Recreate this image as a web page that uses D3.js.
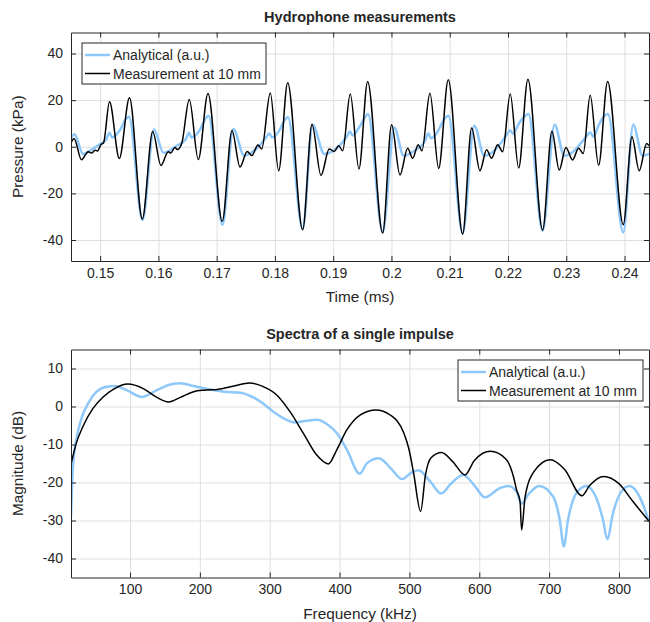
<!DOCTYPE html>
<html>
<head>
<meta charset="utf-8">
<script src="https://cdn.jsdelivr.net/npm/d3@7/dist/d3.min.js"></script>
<style>
body { margin: 0; background: #fff; }
svg text { font-family: "Liberation Sans", Arial, Helvetica, sans-serif; fill: #262626; }
</style>
</head>
<body>
<div id="chart"></div>
<script>
// ---- top panel: hydrophone trace ----
var timeTicks = [0.15, 0.16, 0.17, 0.18, 0.19, 0.2, 0.21, 0.22, 0.23, 0.24];
var pressureTicks = [-40, -20, 0, 20, 40];

var measuredTime = [
    0.14500, 0.14552, 0.14680, 0.14797, 0.14852, 0.14912, 0.14955, 0.15015, 0.15058,
    0.15161, 0.15329, 0.15504, 0.15724, 0.15902, 0.16044, 0.16170, 0.16211, 0.16285, 0.16324, 0.16400,
    0.16530, 0.16685, 0.16851, 0.17096, 0.17263, 0.17400, 0.17524, 0.17603, 0.17709, 0.17772,
    0.17920, 0.18064, 0.18219, 0.18476, 0.18636, 0.18790, 0.18932, 0.19018, 0.19094, 0.19162,
    0.19293, 0.19442, 0.19591, 0.19849, 0.20003, 0.20146, 0.20278, 0.20364, 0.20460, 0.20523,
    0.20660, 0.20810, 0.20975, 0.21222, 0.21376, 0.21518, 0.21633, 0.21719, 0.21822, 0.21908,
    0.22038, 0.22183, 0.22342, 0.22594, 0.22754, 0.22879, 0.22994, 0.23109, 0.23212, 0.23291,
    0.23411, 0.23555, 0.23710, 0.23978, 0.24127, 0.24252, 0.24379, 0.24420
];
var measuredPressure = [
    1.5, 3.5, -5.6, -2.1, -2.7, -1.5, -1.8, 1.0, 1.6,
    19.3, -5.0, 21.0, -31.0, 6.5, -8.0, -2.1, -2.7, -0.3, -1.2, 1.4,
    20.3, -5.5, 22.8, -32.0, 7.0, -8.7, -2.0, -3.8, 0.8, -1.0,
    23.0, -10.3, 27.5, -35.6, 9.7, -12.3, -1.0, -2.0, 0.4, -1.7,
    22.6, -9.5, 28.0, -37.0, 9.4, -12.1, -0.6, -4.9, 0.9, -1.7,
    22.9, -9.3, 28.7, -37.4, 8.0, -10.3, -1.3, -4.9, 0.9, -2.1,
    22.6, -9.1, 29.0, -35.7, 6.6, -10.0, -0.3, -5.7, -0.6, -2.9,
    22.1, -7.9, 28.0, -33.4, 4.3, -10.3, 1.4, 0.5
];

var analyticalTime = [
    0.14500, 0.14560, 0.14706, 0.14843, 0.14998, 0.15109, 0.15161, 0.15204, 0.15341, 0.15444, 0.15495,
    0.15727, 0.15924, 0.16087, 0.16314, 0.16473, 0.16525, 0.16568, 0.16705, 0.16817, 0.16860,
    0.17100, 0.17285, 0.17474, 0.17560, 0.17731, 0.17846, 0.17906, 0.17949, 0.18074, 0.18160, 0.18224,
    0.18476, 0.18648, 0.18847, 0.19104, 0.19236, 0.19288, 0.19331, 0.19451, 0.19545, 0.19597,
    0.19849, 0.20048, 0.20209, 0.20391, 0.20563, 0.20635, 0.20678, 0.20793, 0.20906, 0.20978,
    0.21222, 0.21421, 0.21592, 0.21764, 0.21935, 0.22042, 0.22085, 0.22188, 0.22282, 0.22351,
    0.22594, 0.22800, 0.22965, 0.23137, 0.23308, 0.23415, 0.23463, 0.23561, 0.23646, 0.23715,
    0.23978, 0.24149, 0.24310, 0.24420
];
var analyticalPressure = [
    3.8, 5.4, -3.1, -1.4, 1.2, 3.3, 6.0, 4.0, 7.2, 12.0, 12.9,
    -31.4, 7.5, -2.6, 0.4, 3.3, 6.0, 4.0, 7.0, 12.3, 13.3,
    -33.5, 7.6, -3.9, -3.1, 0.4, 4.0, 5.7, 4.0, 6.9, 11.1, 12.6,
    -35.2, 9.4, -3.1, 0.4, 4.5, 6.5, 4.8, 8.5, 12.5, 14.0,
    -36.5, 8.3, -3.9, -1.7, 1.9, 5.7, 3.6, 6.5, 11.9, 13.3,
    -37.0, 9.0, -3.9, -1.7, 3.5, 7.0, 5.5, 10.0, 13.0, 14.0,
    -36.0, 9.4, -3.9, -1.7, 3.3, 6.1, 4.3, 9.5, 13.0, 14.0,
    -36.8, 9.4, -3.9, -3.1
];

// ---- bottom panel: spectra ----
var freqTicks = [100, 200, 300, 400, 500, 600, 700, 800];
var magTicks = [-40, -30, -20, -10, 0, 10];

var measuredFreq = [
    15.5, 23, 32.7, 47, 61.5, 76, 97, 119, 138.5, 155, 172, 191, 206, 225, 249, 271, 290,
    309.6, 328.8, 348, 367, 384, 396, 410.6, 429.8, 452, 473, 492, 499, 506, 516, 523, 531,
    546, 562, 579.5, 593, 616, 638, 649, 653.3, 658.4, 660.6, 665.6, 678, 701.5, 722, 747,
    758, 778, 800, 820, 843
];
var measuredMag = [
    -15.2, -9.7, -5.2, -0.5, 2.5, 4.5, 5.9, 4.7, 2.4, 1.2, 2.4, 3.9, 4.3, 4.5, 5.4, 6.2, 5.3,
    3.1, -1.3, -7, -12.7, -15.1, -11.4, -6.1, -2.2, -0.9, -2.3, -7, -11, -17.5, -27.6, -18, -13.5,
    -12.1, -14.5, -18, -14.2, -11.8, -13.8, -18.5, -21.9, -25, -32.5, -23.8, -17.2, -14, -16.5, -23.5,
    -20.8, -18.4, -20.3, -25, -30.2
];

var analyticalFreq = [
    15.5, 18.3, 23, 30.3, 40, 52, 66.3, 78.4, 95.2, 116.8, 138.5, 157.7, 172, 191, 210.6, 234.6,
    258.7, 273, 287.5, 304.8, 324, 336, 348, 367.3, 381.7, 396, 410.6, 428.8, 439.4, 456.3, 473,
    489.5, 502, 513, 530, 545.5, 560, 577, 594, 608, 629.5, 641.4, 653.3, 660.5, 670, 685.7,
    705.7, 715.2, 721, 727.1, 739, 753.3, 767.6, 777.1, 783.3, 791.4, 803.3, 815.2, 829.5, 843
];
var analyticalMag = [
    -29, -15.9, -8.9, -3.2, 0.8, 3.9, 5.2, 5.4, 4.3, 2.5, 4.3, 5.8, 6.1, 5.4, 4.6, 3.9,
    3.6, 2.7, 1.2, -1.3, -3.5, -4.2, -3.9, -3.5, -4.6, -7, -11.4, -17.7, -14.9, -13.6, -16.2,
    -19.1, -17.5, -16.8, -19.8, -22.9, -20.2, -18, -21, -23.9, -21.5, -20.9, -22.4, -25.6, -23.2, -20.9,
    -23.7, -29.8, -36.8, -29.8, -22.8, -20.9, -24.1, -29.8, -34.9, -28.1, -22.4, -20.9, -23.7, -30.3
];

var seriesNames = ["Analytical (a.u.)", "Measurement at 10 mm"];
var seriesColors = ["#8ec8fa", "#000000"];
var seriesWidths = [2.5, 1.5];

var width = 650, height = 622;
var svg = d3.select("#chart").append("svg")
    .attr("width", width)
    .attr("height", height);

function zip(xs, ys){
    return xs.map(function(x, i){ return [x, ys[i]]; });
}

function drawPanel(p){
    var g = svg.append("g");
    var x = d3.scaleLinear().domain(p.xDomain).range([p.left, p.right]);
    var y = d3.scaleLinear().domain(p.yDomain).range([p.bottom, p.top]);
    var w = p.right - p.left;
    var h = p.bottom - p.top;

    //grid
    g.append("g")
        .attr("transform", "translate(0," + p.bottom + ")")
        .call(d3.axisBottom(x).tickValues(p.xTicks).tickSize(-h).tickFormat(""))
        .call(function(a){ a.select(".domain").remove(); a.selectAll("line").attr("stroke", "#dfdfdf"); });
    g.append("g")
        .attr("transform", "translate(" + p.left + ",0)")
        .call(d3.axisLeft(y).tickValues(p.yTicks).tickSize(-w).tickFormat(""))
        .call(function(a){ a.select(".domain").remove(); a.selectAll("line").attr("stroke", "#dfdfdf"); });

    //lines, clipped to axes
    g.append("clipPath").attr("id", p.id + "clip")
        .append("rect").attr("x", p.left).attr("y", p.top).attr("width", w).attr("height", h);
    var line = d3.line()
        .x(function(d){ return x(d[0]); })
        .y(function(d){ return y(d[1]); })
        .curve(d3.curveMonotoneX);
    p.series.forEach(function(s, i){
        g.append("path")
            .datum(s)
            .attr("clip-path", "url(#" + p.id + "clip)")
            .attr("fill", "none")
            .attr("stroke", seriesColors[i])
            .attr("stroke-width", seriesWidths[i])
            .attr("stroke-linejoin", "round")
            .attr("d", line);
    });

    //axes, ticks pointing inward on all four sides
    var styleAxis = function(a){
        a.select(".domain").attr("stroke", "#262626").attr("stroke-width", 1);
        a.selectAll(".tick line").attr("stroke", "#262626");
        a.selectAll("text").attr("font-size", 14).attr("fill", "#262626")
            .style("font-family", '"Liberation Sans", Arial, sans-serif');
    };
    g.append("g")
        .attr("transform", "translate(0," + p.bottom + ")")
        .call(d3.axisBottom(x).tickValues(p.xTicks).tickSizeInner(-5).tickSizeOuter(0).tickPadding(7)
            .tickFormat(function(d){ return String(d); }))
        .call(styleAxis);
    g.append("g")
        .attr("transform", "translate(0," + p.top + ")")
        .call(d3.axisTop(x).tickValues(p.xTicks).tickSizeInner(-5).tickSizeOuter(0).tickFormat(""))
        .call(styleAxis);
    g.append("g")
        .attr("transform", "translate(" + p.left + ",0)")
        .call(d3.axisLeft(y).tickValues(p.yTicks).tickSizeInner(-5).tickSizeOuter(0).tickPadding(8)
            .tickFormat(function(d){ return String(d); }))
        .call(styleAxis);
    g.append("g")
        .attr("transform", "translate(" + p.right + ",0)")
        .call(d3.axisRight(y).tickValues(p.yTicks).tickSizeInner(-5).tickSizeOuter(0).tickFormat(""))
        .call(styleAxis);

    //title and labels
    g.append("text")
        .attr("x", (p.left + p.right) / 2).attr("y", p.top - 11)
        .attr("text-anchor", "middle").attr("font-size", 14.5).attr("font-weight", "bold")
        .attr("fill", "#000")
        .text(p.title);
    g.append("text")
        .attr("x", (p.left + p.right) / 2).attr("y", p.bottom + 41)
        .attr("text-anchor", "middle").attr("font-size", 15.4)
        .text(p.xLabel);
    g.append("text")
        .attr("transform", "translate(23," + (p.top + p.bottom) / 2 + ") rotate(-90)")
        .attr("text-anchor", "middle").attr("font-size", 15.4)
        .text(p.yLabel);

    //legend
    var lg = g.append("g").attr("transform", "translate(" + p.legend[0] + "," + p.legend[1] + ")");
    lg.append("rect")
        .attr("width", p.legend[2]).attr("height", 41)
        .attr("fill", "#fff").attr("stroke", "#262626").attr("stroke-width", 1);
    seriesNames.forEach(function(name, i){
        var ly = 12 + i * 18.5;
        lg.append("line")
            .attr("x1", 3).attr("x2", 28).attr("y1", ly).attr("y2", ly)
            .attr("stroke", seriesColors[i]).attr("stroke-width", seriesWidths[i]);
        lg.append("text")
            .attr("x", 31).attr("y", ly + 5)
            .attr("font-size", 14).attr("fill", "#000")
            .text(name);
    });
}

drawPanel({
    id: "top",
    left: 71, right: 649, top: 32.5, bottom: 261,
    xDomain: [0.145, 0.2442], yDomain: [-49, 49],
    xTicks: timeTicks, yTicks: pressureTicks,
    series: [zip(analyticalTime, analyticalPressure), zip(measuredTime, measuredPressure)],
    title: "Hydrophone measurements", xLabel: "Time (ms)", yLabel: "Pressure (kPa)",
    legend: [82, 43, 184]
});

drawPanel({
    id: "bottom",
    left: 71, right: 649, top: 349.5, bottom: 577.5,
    xDomain: [15.5, 843], yDomain: [-45, 15],
    xTicks: freqTicks, yTicks: magTicks,
    series: [zip(analyticalFreq, analyticalMag), zip(measuredFreq, measuredMag)],
    title: "Spectra of a single impulse", xLabel: "Frequency (kHz)", yLabel: "Magnitude (dB)",
    legend: [458, 360, 185]
});
</script>
</body>
</html>
